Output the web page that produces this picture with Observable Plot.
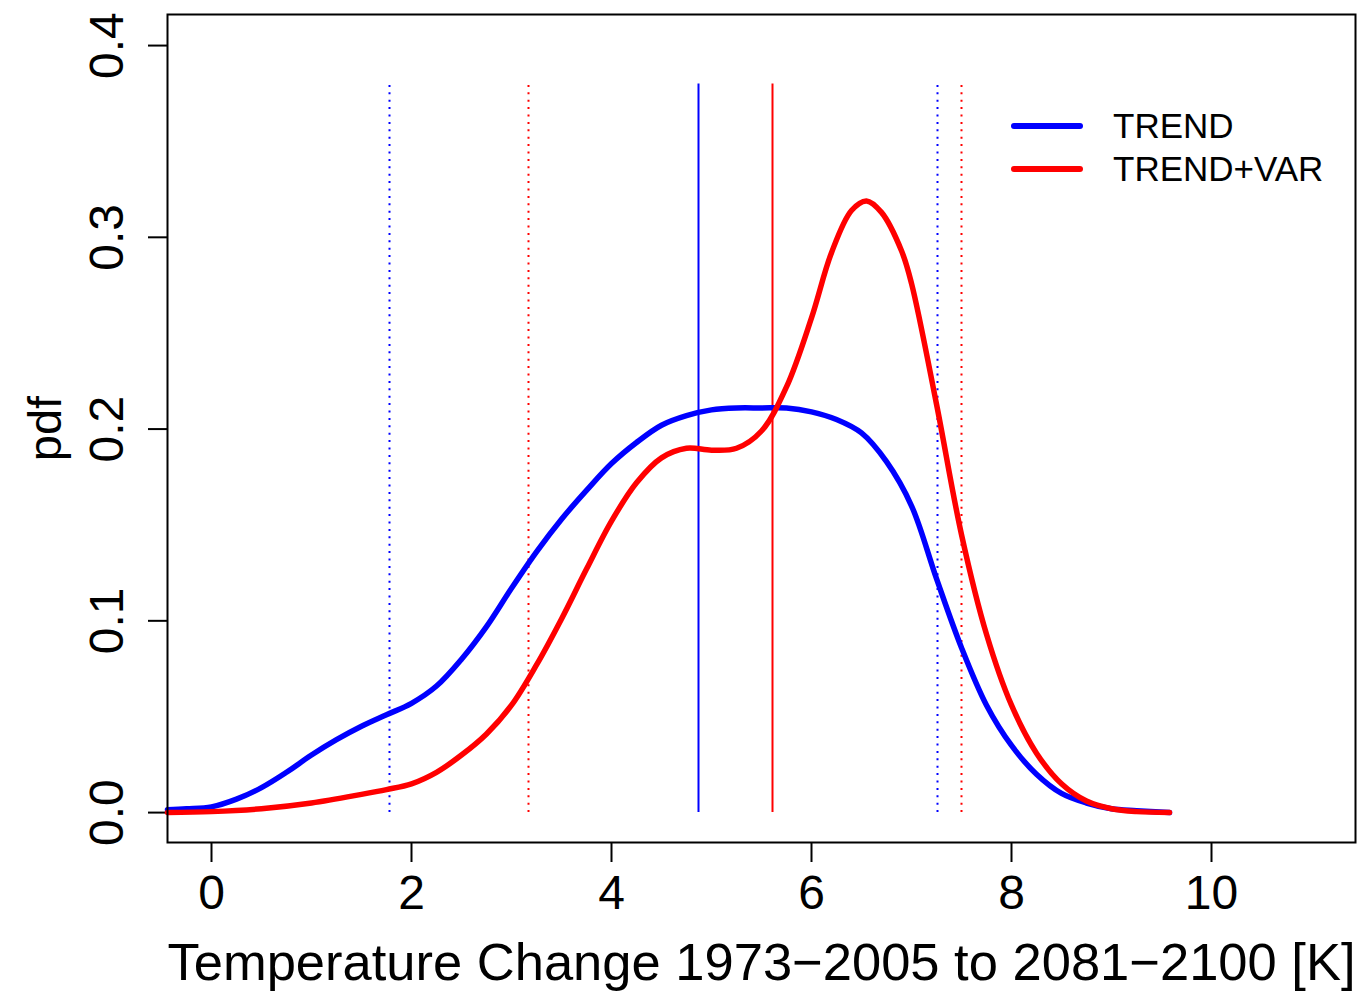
<!DOCTYPE html>
<html>
<head>
<meta charset="utf-8">
<script src="https://cdn.jsdelivr.net/npm/d3@7"></script>
<script src="https://cdn.jsdelivr.net/npm/@observablehq/plot@0.6"></script>
<style>
  body { margin: 0; background: white; }
  #wrap { position: relative; width: 1364px; height: 991px; font-family: "Liberation Sans", Arial, Helvetica, sans-serif; }
  #legend { position: absolute; left: 1009px; top: 104px; }
  .item { display: flex; align-items: center; height: 43px; font-size: 35px; color: black; }
  .item svg { margin-right: 28px; }
</style>
</head>
<body>
<div id="wrap"></div>
<script>
// Tick values
const xTicks = [0, 2, 4, 6, 8, 10];
const yTicks = [0, 0.1, 0.2, 0.3, 0.4];

// TREND density curve
const blueX = [-0.44,-0.25,0.0,0.25,0.5,0.75,1.0,1.25,1.5,1.75,2.0,2.25,2.5,2.75,3.0,3.25,3.5,3.75,4.0,4.25,4.5,4.75,5.0,5.25,5.5,5.75,6.0,6.25,6.5,6.75,7.0,7.25,7.5,7.75,8.0,8.25,8.5,8.75,9.0,9.25,9.58];
const blueY = [0.0015,0.002,0.003,0.007,0.013,0.021,0.030,0.038,0.045,0.051,0.057,0.066,0.080,0.097,0.117,0.136,0.153,0.168,0.182,0.193,0.202,0.207,0.210,0.211,0.211,0.211,0.209,0.205,0.198,0.183,0.160,0.122,0.086,0.056,0.035,0.020,0.010,0.005,0.002,0.001,0.0];

// TREND+VAR density curve
const redX = [-0.44,0.0,0.5,1.0,1.5,1.75,2.0,2.25,2.5,2.75,3.0,3.25,3.5,3.75,4.0,4.25,4.5,4.75,5.0,5.25,5.5,5.75,6.0,6.2,6.4,6.55,6.7,6.9,7.0,7.25,7.5,7.75,8.0,8.25,8.5,8.75,9.0,9.25,9.58];
const redY = [0.0,0.0005,0.002,0.005,0.0095,0.012,0.015,0.021,0.030,0.041,0.056,0.077,0.101,0.127,0.152,0.172,0.185,0.190,0.189,0.190,0.199,0.222,0.258,0.292,0.314,0.319,0.313,0.293,0.276,0.213,0.145,0.093,0.056,0.031,0.015,0.006,0.002,0.0005,0.0];

// Vertical reference lines (mean and 5/95 % quantiles)
const vlineX = [1.78, 3.17, 4.87, 5.61, 7.26, 7.50];
const vlineSeries = ["TREND", "TREND+VAR", "TREND", "TREND+VAR", "TREND", "TREND+VAR"];
const vlineKind = ["dotted", "dotted", "solid", "solid", "dotted", "dotted"];
const vlineTop = 0.38;

const seriesNames = ["TREND", "TREND+VAR"];
const seriesColors = ["#0000ff", "#ff0000"];

const xLabel = "Temperature Change 1973\u22122005 to 2081\u22122100 [K]";
const yLabel = "pdf";

const colorOf = s => seriesColors[seriesNames.indexOf(s)];
const blue = blueX.map((x, i) => ({x, y: blueY[i]}));
const red = redX.map((x, i) => ({x, y: redY[i]}));
const vlines = vlineX.map((x, i) => ({x, s: vlineSeries[i], k: vlineKind[i]}));
const fmt = d3.format(".1f");

const chart = Plot.plot({
  width: 1364,
  height: 991,
  marginLeft: 167,
  marginRight: 9,
  marginTop: 14,
  marginBottom: 149,
  x: {domain: [-0.44, 11.44]},
  y: {domain: [-0.0156, 0.4162]},
  style: {fontFamily: "'Liberation Sans', Arial, Helvetica, sans-serif", color: "black", background: "white", overflow: "visible"},
  marks: [
    Plot.axisX(xTicks, {anchor: "bottom", tickSize: 20, tickPadding: 12, fontSize: 48, strokeWidth: 2, label: null}),
    Plot.axisY(yTicks, {anchor: "left", tickSize: 19, tickFormat: () => "", strokeWidth: 2, label: null}),
    Plot.text(yTicks, {y: d => d, text: d => fmt(d), frameAnchor: "left", dx: -60, rotate: -90, fontSize: 48, textAnchor: "middle", lineAnchor: "middle"}),
    Plot.text([xLabel], {text: d => d, frameAnchor: "bottom", dy: 121, fontSize: 52.5, lineAnchor: "middle"}),
    Plot.text([yLabel], {text: d => d, frameAnchor: "left", dx: -122, rotate: -90, fontSize: 47, textAnchor: "middle", lineAnchor: "middle"}),
    Plot.ruleX(vlines.filter(d => d.k === "dotted"), {x: "x", y1: 0, y2: vlineTop, stroke: d => colorOf(d.s), strokeWidth: 2, strokeDasharray: "2,5.4"}),
    Plot.ruleX(vlines.filter(d => d.k === "solid"), {x: "x", y1: 0, y2: vlineTop, stroke: d => colorOf(d.s), strokeWidth: 2}),
    Plot.line(blue, {x: "x", y: "y", stroke: seriesColors[0], strokeWidth: 5.5, curve: "catmull-rom"}),
    Plot.line(red, {x: "x", y: "y", stroke: seriesColors[1], strokeWidth: 5.5, curve: "catmull-rom"}),
    Plot.frame({stroke: "black", strokeWidth: 2})
  ]
});

const wrap = document.getElementById("wrap");
wrap.appendChild(chart);

const legend = document.createElement("div");
legend.id = "legend";
seriesNames.forEach((name, i) => {
  const item = document.createElement("div");
  item.className = "item";
  item.innerHTML = `<svg width="76" height="10"><line x1="5" y1="5" x2="71" y2="5" stroke="${seriesColors[i]}" stroke-width="6" stroke-linecap="round"/></svg><span>${name}</span>`;
  legend.appendChild(item);
});
wrap.appendChild(legend);
</script>
</body>
</html>
